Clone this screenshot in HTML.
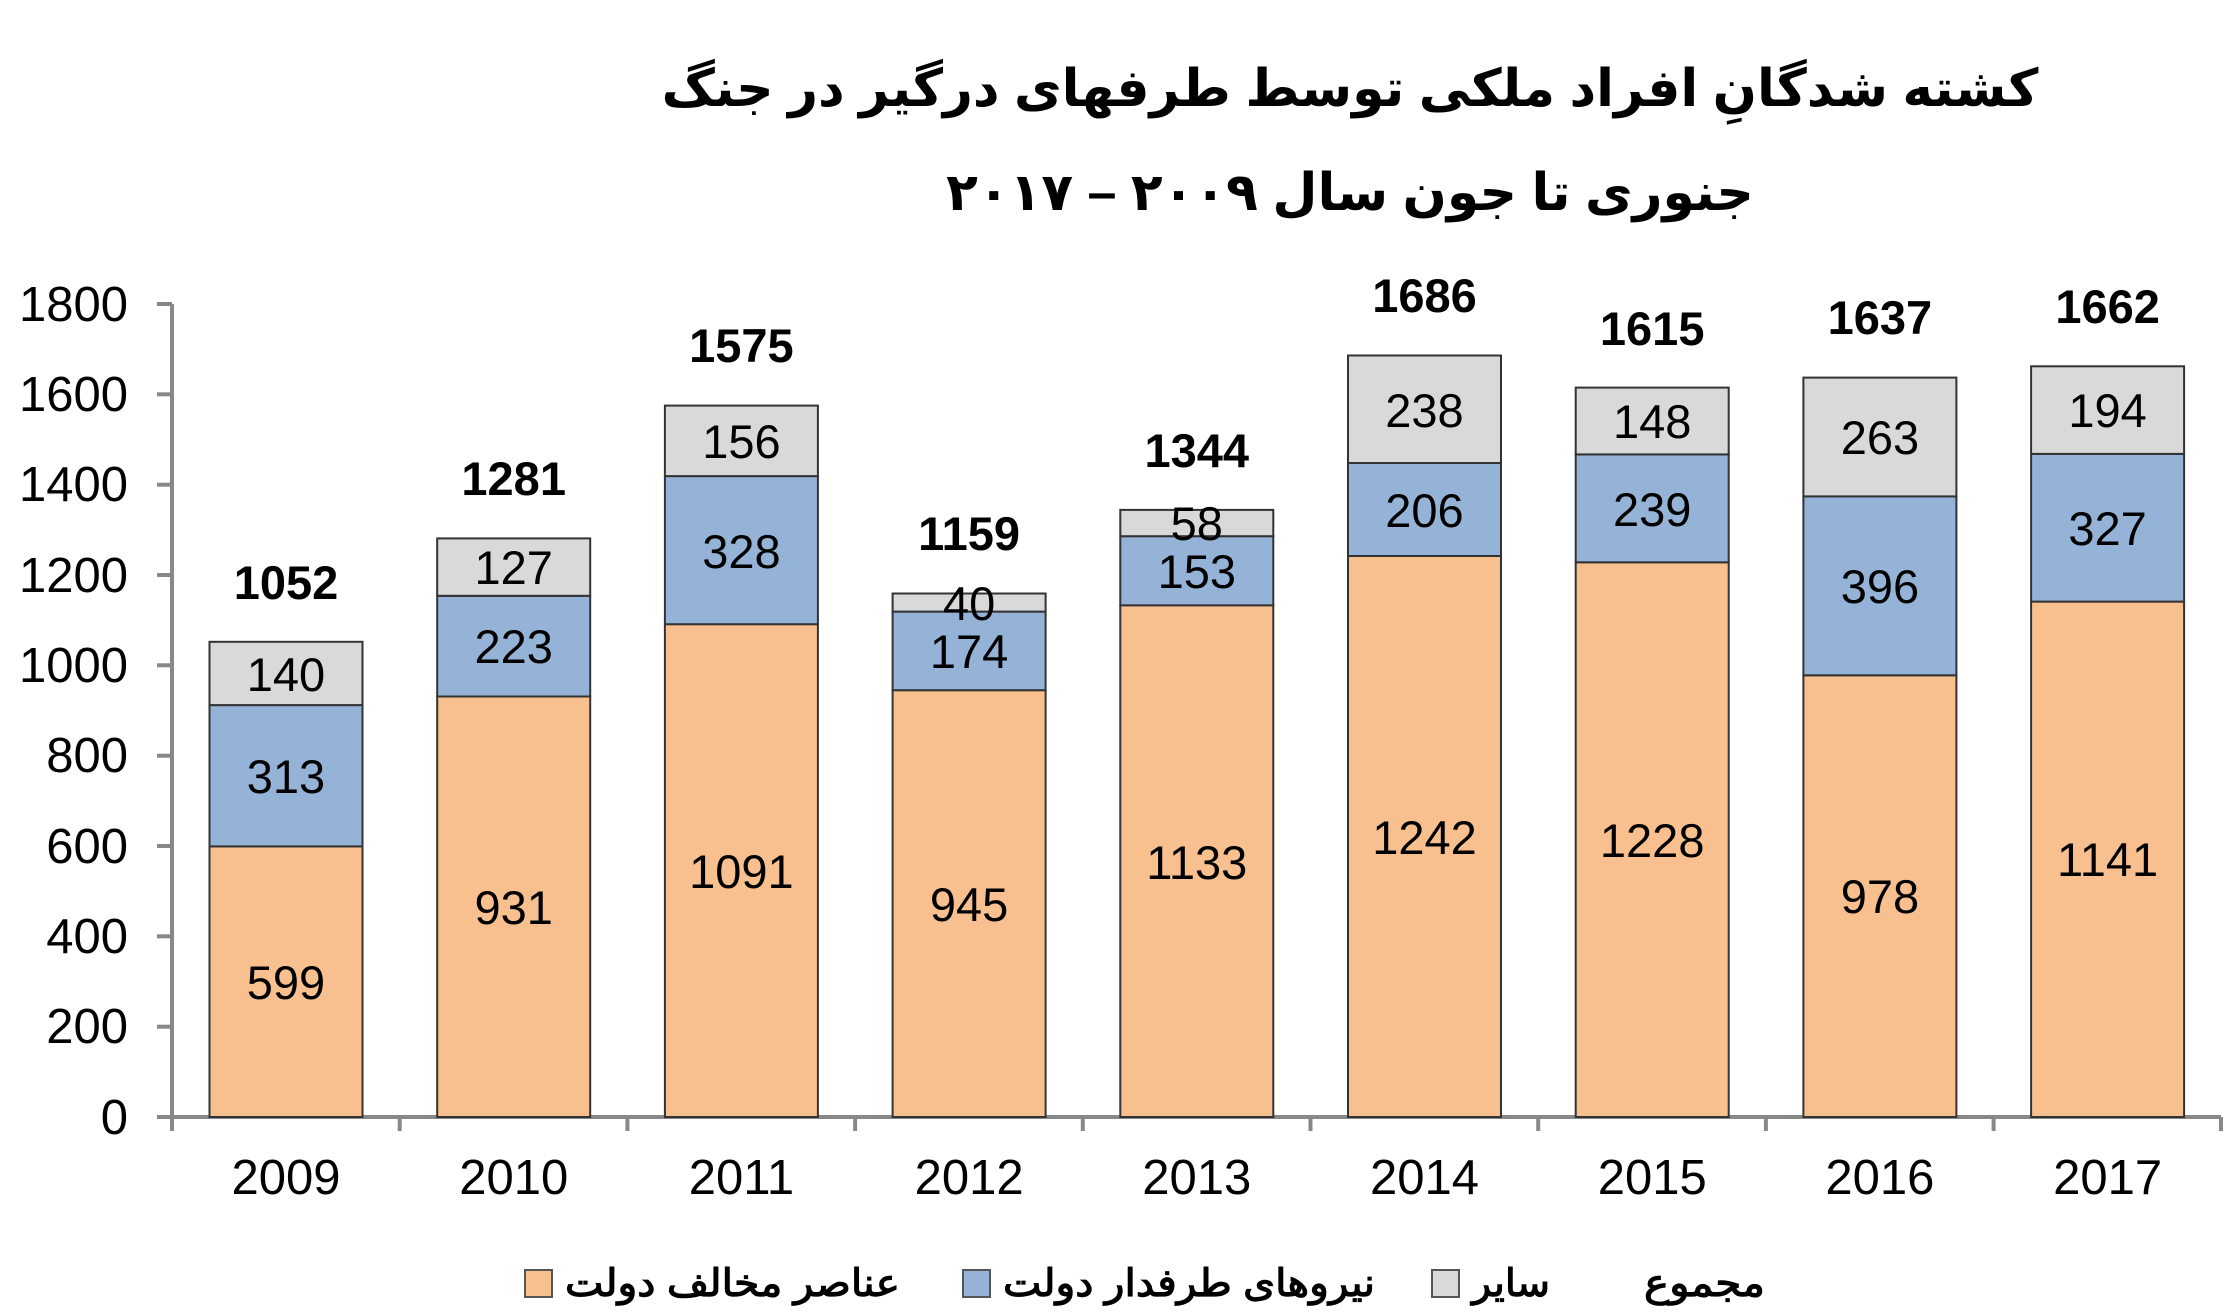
<!DOCTYPE html>
<html><head><meta charset="utf-8"><style>
html,body{margin:0;padding:0;background:#fff;}
svg{display:block;}
text{font-family:"Liberation Sans",sans-serif;fill:#000;}
.t{font-family:"Liberation Sans","Noto Sans CJK SC","DejaVu Sans",sans-serif;font-weight:bold;font-size:52px;}
.lg{font-family:"DejaVu Sans","Liberation Sans",sans-serif;font-size:38px;font-weight:bold;}
.ax{font-size:49px;}
.d{font-size:47px;text-anchor:middle;}
.tot{font-size:47px;font-weight:bold;text-anchor:middle;}
</style></head><body>
<svg width="2233" height="1312" viewBox="0 0 2233 1312" xmlns="http://www.w3.org/2000/svg">
<text class="t" x="1350" y="106" text-anchor="middle">کشته شدگانِ افراد ملکی توسط طرفهای درگیر در جنگ</text>
<text class="t" x="1350" y="210" text-anchor="middle">جنوری تا جون سال ۲۰۰۹ – ۲۰۱۷</text>

<g fill="none" stroke="#888" stroke-width="4">
<line x1="172" y1="304" x2="172" y2="1131"/>
<line x1="157" y1="1117" x2="2221" y2="1117"/>
<line x1="157" y1="304" x2="172" y2="304"/>
<line x1="157" y1="394.3" x2="172" y2="394.3"/>
<line x1="157" y1="484.7" x2="172" y2="484.7"/>
<line x1="157" y1="575" x2="172" y2="575"/>
<line x1="157" y1="665.3" x2="172" y2="665.3"/>
<line x1="157" y1="755.7" x2="172" y2="755.7"/>
<line x1="157" y1="846" x2="172" y2="846"/>
<line x1="157" y1="936.3" x2="172" y2="936.3"/>
<line x1="157" y1="1026.7" x2="172" y2="1026.7"/>
<line x1="399.7" y1="1117" x2="399.7" y2="1131"/>
<line x1="627.4" y1="1117" x2="627.4" y2="1131"/>
<line x1="855.1" y1="1117" x2="855.1" y2="1131"/>
<line x1="1082.8" y1="1117" x2="1082.8" y2="1131"/>
<line x1="1310.5" y1="1117" x2="1310.5" y2="1131"/>
<line x1="1538.2" y1="1117" x2="1538.2" y2="1131"/>
<line x1="1765.9" y1="1117" x2="1765.9" y2="1131"/>
<line x1="1993.6" y1="1117" x2="1993.6" y2="1131"/>
<line x1="2221" y1="1117" x2="2221" y2="1131"/>
</g>
<g class="ax" text-anchor="end">
<text x="128" y="321">1800</text><text x="128" y="411">1600</text><text x="128" y="501">1400</text>
<text x="128" y="592">1200</text><text x="128" y="682">1000</text><text x="128" y="772">800</text>
<text x="128" y="863">600</text><text x="128" y="953">400</text><text x="128" y="1043">200</text>
<text x="128" y="1134">0</text>
</g>

<g stroke="#333" stroke-width="2">
<rect x="209.5" y="846.4" width="153" height="270.6" fill="#f9c08f"/>
<rect x="209.5" y="705.1" width="153" height="141.3" fill="#95b3d7"/>
<rect x="209.5" y="641.8" width="153" height="63.3" fill="#d9d9d9"/>
<rect x="437.2" y="696.5" width="153" height="420.5" fill="#f9c08f"/>
<rect x="437.2" y="595.8" width="153" height="100.7" fill="#95b3d7"/>
<rect x="437.2" y="538.4" width="153" height="57.4" fill="#d9d9d9"/>
<rect x="664.9" y="624.2" width="153" height="492.8" fill="#f9c08f"/>
<rect x="664.9" y="476.1" width="153" height="148.1" fill="#95b3d7"/>
<rect x="664.9" y="405.6" width="153" height="70.5" fill="#d9d9d9"/>
<rect x="892.6" y="690.2" width="153" height="426.8" fill="#f9c08f"/>
<rect x="892.6" y="611.6" width="153" height="78.6" fill="#95b3d7"/>
<rect x="892.6" y="593.5" width="153" height="18.1" fill="#d9d9d9"/>
<rect x="1120.3" y="605.3" width="153" height="511.7" fill="#f9c08f"/>
<rect x="1120.3" y="536.2" width="153" height="69.1" fill="#95b3d7"/>
<rect x="1120.3" y="509.9" width="153" height="26.3" fill="#d9d9d9"/>
<rect x="1348" y="556" width="153" height="561" fill="#f9c08f"/>
<rect x="1348" y="463" width="153" height="93" fill="#95b3d7"/>
<rect x="1348" y="355.5" width="153" height="107.5" fill="#d9d9d9"/>
<rect x="1575.7" y="562.3" width="153" height="554.7" fill="#f9c08f"/>
<rect x="1575.7" y="454.4" width="153" height="107.9" fill="#95b3d7"/>
<rect x="1575.7" y="387.6" width="153" height="66.8" fill="#d9d9d9"/>
<rect x="1803.4" y="675.3" width="153" height="441.7" fill="#f9c08f"/>
<rect x="1803.4" y="496.4" width="153" height="178.9" fill="#95b3d7"/>
<rect x="1803.4" y="377.6" width="153" height="118.8" fill="#d9d9d9"/>
<rect x="2031.1" y="601.6" width="153" height="515.4" fill="#f9c08f"/>
<rect x="2031.1" y="453.9" width="153" height="147.7" fill="#95b3d7"/>
<rect x="2031.1" y="366.3" width="153" height="87.6" fill="#d9d9d9"/>
</g>

<g class="d">
<text x="286" y="999">599</text><text x="286" y="793">313</text><text x="286" y="691">140</text>
<text x="513.7" y="924">931</text><text x="513.7" y="663">223</text><text x="513.7" y="584">127</text>
<text x="741.4" y="888">1091</text><text x="741.4" y="568">328</text><text x="741.4" y="458">156</text>
<text x="969.1" y="921">945</text><text x="969.1" y="668">174</text><text x="969.1" y="620">40</text>
<text x="1196.8" y="879">1133</text><text x="1196.8" y="588">153</text><text x="1196.8" y="540">58</text>
<text x="1424.5" y="854">1242</text><text x="1424.5" y="527">206</text><text x="1424.5" y="427">238</text>
<text x="1652.2" y="857">1228</text><text x="1652.2" y="526">239</text><text x="1652.2" y="438">148</text>
<text x="1879.9" y="913">978</text><text x="1879.9" y="603">396</text><text x="1879.9" y="454">263</text>
<text x="2107.6" y="876">1141</text><text x="2107.6" y="545">327</text><text x="2107.6" y="427">194</text>
</g>
<g class="tot">
<text x="286" y="599">1052</text>
<text x="513.7" y="495">1281</text>
<text x="741.4" y="362">1575</text>
<text x="969.1" y="550">1159</text>
<text x="1196.8" y="467">1344</text>
<text x="1424.5" y="312">1686</text>
<text x="1652.2" y="345">1615</text>
<text x="1879.9" y="334">1637</text>
<text x="2107.6" y="323">1662</text>
</g>
<g class="ax" text-anchor="middle">
<text x="286" y="1194">2009</text><text x="513.7" y="1194">2010</text><text x="741.4" y="1194">2011</text>
<text x="969.1" y="1194">2012</text><text x="1196.8" y="1194">2013</text><text x="1424.5" y="1194">2014</text>
<text x="1652.2" y="1194">2015</text><text x="1879.9" y="1194">2016</text><text x="2107.6" y="1194">2017</text>
</g>

<g stroke="#555" stroke-width="2">
<rect x="525" y="1270" width="27" height="27" fill="#f9c08f"/>
<rect x="963" y="1270" width="27" height="27" fill="#95b3d7"/>
<rect x="1432" y="1270" width="27" height="27" fill="#d9d9d9"/>
</g>
<g class="lg">
<text x="565" y="1296" textLength="335" lengthAdjust="spacingAndGlyphs">عناصر مخالف دولت</text>
<text x="1003" y="1296" textLength="372" lengthAdjust="spacingAndGlyphs">نیروهای طرفدار دولت</text>
<text x="1472" y="1296" textLength="78" lengthAdjust="spacingAndGlyphs">سایر</text>
<text x="1644" y="1296" textLength="121" lengthAdjust="spacingAndGlyphs">مجموع</text>
</g>
</svg>
</body></html>
